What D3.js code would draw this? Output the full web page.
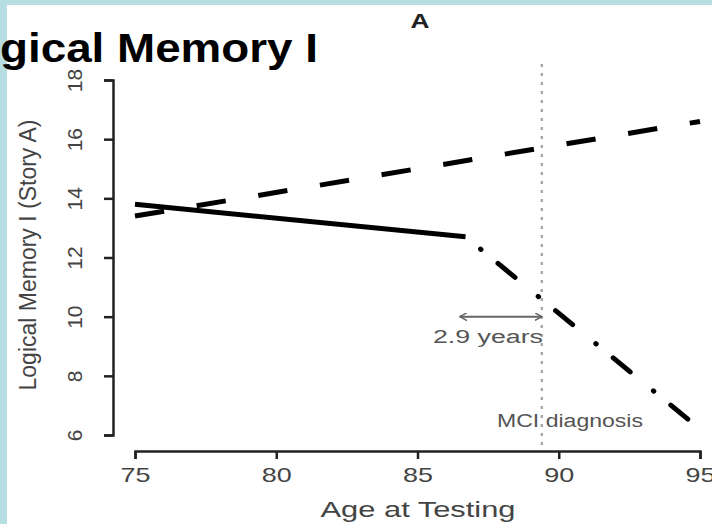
<!DOCTYPE html>
<html>
<head>
<meta charset="utf-8">
<script src="https://cdn.jsdelivr.net/npm/d3@7"></script>
<style>
  body { margin: 0; background: #b7dfe3; }
  svg { display: block; }
</style>
</head>
<body>
<svg width="712" height="524"></svg>
<script>
// values
var xTicks = [75, 80, 85, 90, 95];
var yTicks = [6, 8, 10, 12, 14, 16, 18];
var solidAge = [75, 86.7], solidScore = [13.8, 12.7];
var dashAge = [75, 95], dashScore = [13.4, 16.6];
var dotDashAge = [86.7, 95], dotDashScore = [12.7, 6.2];
var diagnosisAge = 89.4;
var arrowFrom = 86.5, arrowTo = 89.4, arrowScore = 10;

var font = "Liberation Sans, Arial, sans-serif";
var svg = d3.select("svg");

// white panel over the teal page
svg.append("rect").attr("x", 7).attr("y", 5).attr("width", 705).attr("height", 519).attr("fill", "white");

var scX = d3.scaleLinear().domain([75, 95]).range([135, 700]);
var scY = d3.scaleLinear().domain([6, 18]).range([435, 80]);

var toPts = (xs, ys) => xs.map((x, i) => ({x: x, y: ys[i]}));
var lineMaker = d3.line().x(d => scX(d.x)).y(d => scY(d.y));

// x axis (the picture is stretched sideways, so the texts get a textLength)
var gx = svg.append("g").attr("transform", "translate(0,451)")
    .call(d3.axisBottom(scX).tickValues(xTicks).tickSize(8).tickPadding(8));
gx.select(".domain").attr("stroke", "#222").attr("stroke-width", 2.5);
gx.selectAll(".tick line").attr("stroke", "#222").attr("stroke-width", 2.5);
gx.selectAll("text").attr("font-family", font).attr("font-size", 21).attr("fill", "#444")
    .attr("textLength", 30).attr("lengthAdjust", "spacingAndGlyphs");

// y axis, labels turned like R
var gy = svg.append("g").attr("transform", "translate(113,0)")
    .call(d3.axisLeft(scY).tickValues(yTicks).tickSize(9).tickPadding(0));
gy.select(".domain").attr("stroke", "#222").attr("stroke-width", 2.5);
gy.selectAll(".tick line").attr("stroke", "#222").attr("stroke-width", 2.5);
gy.selectAll("text")
    .attr("x", null).attr("dy", null)
    .attr("transform", "translate(-39,0) rotate(-90)")
    .attr("text-anchor", "middle").attr("dominant-baseline", "central")
    .attr("font-family", font).attr("font-size", 21).attr("fill", "#444");

svg.append("text").attr("x", 418).attr("y", 517).attr("text-anchor", "middle")
    .attr("font-family", font).attr("font-size", 22).attr("fill", "#444")
    .attr("textLength", 195).attr("lengthAdjust", "spacingAndGlyphs")
    .text("Age at Testing");

svg.append("text").attr("transform", "translate(28,255) rotate(-90)")
    .attr("text-anchor", "middle").attr("dominant-baseline", "central")
    .attr("font-family", font).attr("font-size", 23).attr("fill", "#444")
    .text("Logical Memory I (Story A)");

// MCI diagnosis marker
svg.append("line")
    .attr("x1", scX(diagnosisAge)).attr("x2", scX(diagnosisAge))
    .attr("y1", 64).attr("y2", 451)
    .attr("stroke", "#aaa").attr("stroke-width", 2.5).attr("stroke-dasharray", "3,6");

svg.append("text").attr("x", 570).attr("y", 427).attr("text-anchor", "middle")
    .attr("font-family", font).attr("font-size", 18).attr("fill", "#555")
    .attr("textLength", 146).attr("lengthAdjust", "spacingAndGlyphs")
    .text("MCI diagnosis");

// lines
svg.append("path").attr("d", lineMaker(toPts(solidAge, solidScore)))
    .attr("fill", "none").attr("stroke", "black").attr("stroke-width", 5);
svg.append("path").attr("d", lineMaker(toPts(dashAge, dashScore)))
    .attr("fill", "none").attr("stroke", "black").attr("stroke-width", 5)
    .attr("stroke-dasharray", "29.5,33");
svg.append("path").attr("d", lineMaker(toPts(dotDashAge, dotDashScore)))
    .attr("fill", "none").attr("stroke", "black").attr("stroke-width", 5)
    .attr("stroke-linecap", "round")
    .attr("stroke-dasharray", "0.5,22,22,30").attr("stroke-dashoffset", 55);

// 2.9 years arrow
var defs = svg.append("defs");
defs.append("marker").attr("id", "ah").attr("viewBox", "0 0 10 10")
    .attr("refX", 9).attr("refY", 5).attr("markerWidth", 8).attr("markerHeight", 8)
    .attr("orient", "auto-start-reverse").attr("markerUnits", "userSpaceOnUse")
    .append("path").attr("d", "M0,0 L9,5 L0,10").attr("fill", "none")
    .attr("stroke", "#666").attr("stroke-width", 1.8);
svg.append("line")
    .attr("x1", scX(arrowFrom)).attr("x2", scX(arrowTo))
    .attr("y1", scY(arrowScore)).attr("y2", scY(arrowScore))
    .attr("stroke", "#666").attr("stroke-width", 2)
    .attr("marker-start", "url(#ah)").attr("marker-end", "url(#ah)");
svg.append("text").attr("x", 488).attr("y", 343).attr("text-anchor", "middle")
    .attr("font-family", font).attr("font-size", 18).attr("fill", "#555")
    .attr("textLength", 110).attr("lengthAdjust", "spacingAndGlyphs")
    .text("2.9 years");

// teal strips, then the headings drawn over them
svg.append("rect").attr("x", 0).attr("y", 0).attr("width", 7).attr("height", 524).attr("fill", "#b7dfe3");
svg.append("rect").attr("x", 0).attr("y", 0).attr("width", 712).attr("height", 5).attr("fill", "#b7dfe3");

svg.append("text").attr("x", 420).attr("y", 28).attr("text-anchor", "middle")
    .attr("font-family", font).attr("font-size", 20).attr("font-weight", "bold")
    .attr("fill", "#222").attr("textLength", 19).attr("lengthAdjust", "spacingAndGlyphs")
    .text("A");
svg.append("text").attr("x", 0).attr("y", 62)
    .attr("font-family", font).attr("font-size", 40).attr("font-weight", "bold")
    .attr("fill", "black").attr("textLength", 318).attr("lengthAdjust", "spacingAndGlyphs")
    .text("gical Memory I");
</script>
</body>
</html>
